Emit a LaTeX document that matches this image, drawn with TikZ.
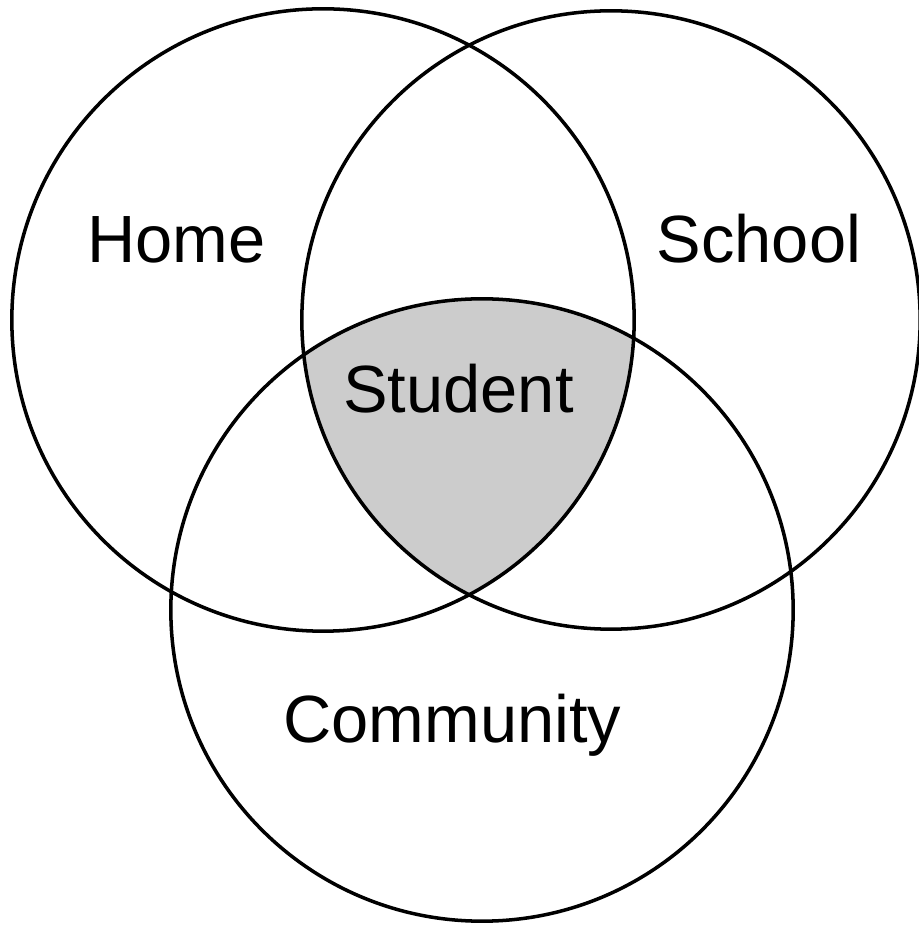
\documentclass[tikz,border=0pt]{standalone}
\usepackage{fontspec}
\setmainfont{Liberation Sans}
\usepackage{tikz}
\definecolor{studentgray}{RGB}{204,204,204}

\begin{document}
\begin{tikzpicture}[x=0.01cm,y=0.01cm,
                    set/.style={draw,line width=1pt},
                    set label/.style={font=\fontsize{19}{23}\selectfont,anchor=base,inner sep=0pt}]

      \useasboundingbox (0,0) rectangle (919,927);

      % centres of the three sets
      \coordinate (h) at (323,607);
      \coordinate (s) at (611,607);
      \coordinate (c) at (482,317);

      % shared part of all three
      \begin{scope}
        \clip (h) circle (3.11cm);
        \clip (s) circle (3.09cm);
        \fill[studentgray] (c) circle (3.11cm);
      \end{scope}

      \draw[set] (h) circle (3.11cm);
      \draw[set] (s) circle (3.09cm);
      \draw[set] (c) circle (3.11cm);

      \node[set label] (home) at (176.5,664) {Home};
      \node[set label] (school) at (759,664) {School};
      \node[set label] (student) at (458.5,514) {Student};
      \node[set label] (community) at (452.5,184) {Community};
\end{tikzpicture}
\end{document}
